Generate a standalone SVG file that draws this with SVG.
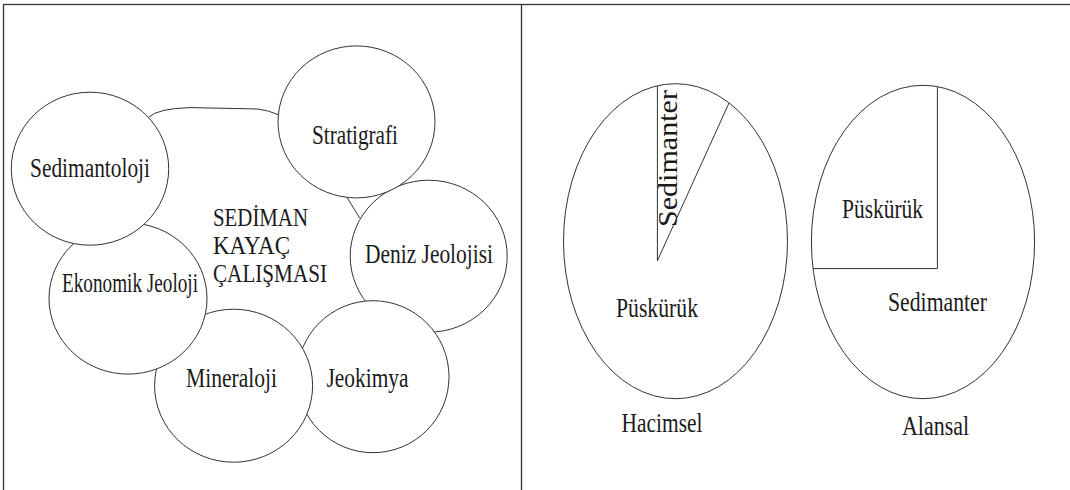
<svg xmlns="http://www.w3.org/2000/svg" width="1070" height="490" viewBox="0 0 1070 490">
<style>
.frame{fill:none;stroke:#333;stroke-width:1.3}
.node{fill:#fff;stroke:#333;stroke-width:1}
.conn{fill:none;stroke:#333;stroke-width:1}
.seg{fill:none;stroke:#333;stroke-width:1}
text{font-family:"Liberation Serif","Times New Roman",serif;font-size:27px;fill:#1a1a1a}
.mid{font-size:25px}
</style>
<rect width="1070" height="490" fill="#fff"/>
<g id="frame">
<rect class="frame" x="3.5" y="4.5" width="1090" height="500"/>
<line class="frame" x1="521.5" y1="4.5" x2="521.5" y2="490"/>
</g>
<g id="connectors">
<path class="conn" d="M148.8,117.1 Q158,108.5 190,107.6 L258,109 Q269,110.5 278.2,114.7"/>
<path class="conn" d="M347,197.3 L359.8,218.3"/>
</g>
<g id="deniz-jeolojisi">
<ellipse class="node" cx="428.7" cy="256.2" rx="78.5" ry="76"/>
<text x="365" y="262.5" textLength="128" lengthAdjust="spacingAndGlyphs">Deniz Jeolojisi</text>
</g>
<g id="jeokimya">
<ellipse class="node" cx="373" cy="376.7" rx="76" ry="76"/>
<text x="326.5" y="387" textLength="82" lengthAdjust="spacingAndGlyphs">Jeokimya</text>
</g>
<g id="mineraloji">
<ellipse class="node" cx="233.6" cy="385.7" rx="79" ry="76.5"/>
<text x="186" y="386.5" textLength="91" lengthAdjust="spacingAndGlyphs">Mineraloji</text>
</g>
<g id="ekonomik-jeoloji">
<ellipse class="node" cx="128" cy="298.5" rx="79" ry="75.6"/>
<text x="62" y="292" textLength="136" lengthAdjust="spacingAndGlyphs">Ekonomik Jeoloji</text>
</g>
<g id="sedimantoloji">
<ellipse class="node" cx="90" cy="168.7" rx="78.7" ry="76.5"/>
<text x="30" y="176.5" textLength="120" lengthAdjust="spacingAndGlyphs">Sedimantoloji</text>
</g>
<g id="stratigrafi">
<ellipse class="node" cx="356.5" cy="121.9" rx="78.5" ry="76"/>
<text x="312" y="143.8" textLength="86" lengthAdjust="spacingAndGlyphs">Stratigrafi</text>
</g>
<g id="center-label">
<text class="mid" x="213" y="225.5" textLength="95" lengthAdjust="spacingAndGlyphs">SEDİMAN</text>
<text class="mid" x="213" y="253.5" textLength="77" lengthAdjust="spacingAndGlyphs">KAYAÇ</text>
<text class="mid" x="213" y="282" textLength="114" lengthAdjust="spacingAndGlyphs">ÇALIŞMASI</text>
</g>
<g id="hacimsel">
<ellipse class="node" cx="675.5" cy="241.2" rx="112" ry="157.5"/>
<path class="seg" d="M657.4,85.8 L657.4,260.7 L729,103"/>
<text transform="translate(677,227) rotate(-90)" x="0" y="0" textLength="137" lengthAdjust="spacingAndGlyphs" style="font-size:28px">Sedimanter</text>
<text x="616" y="316.8" textLength="82" lengthAdjust="spacingAndGlyphs">Püskürük</text>
<text x="621.5" y="432" textLength="81" lengthAdjust="spacingAndGlyphs">Hacimsel</text>
</g>
<g id="alansal">
<ellipse class="node" cx="923" cy="242" rx="111.6" ry="156.7"/>
<path class="seg" d="M937.4,86.6 L937.4,268.6 L813,268.6"/>
<text x="842" y="217.6" textLength="81" lengthAdjust="spacingAndGlyphs">Püskürük</text>
<text x="888" y="311" textLength="99" lengthAdjust="spacingAndGlyphs">Sedimanter</text>
<text x="902" y="434.6" textLength="67" lengthAdjust="spacingAndGlyphs">Alansal</text>
</g>
</svg>
